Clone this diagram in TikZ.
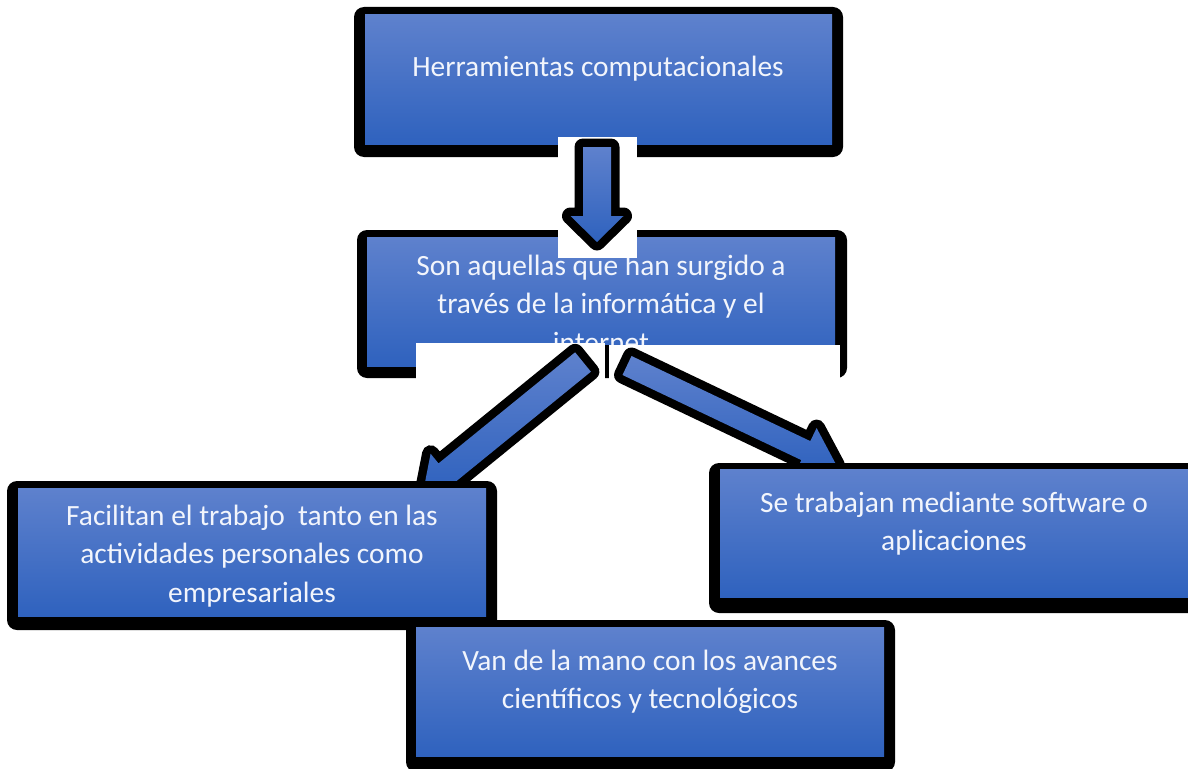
\documentclass[tikz,border=0pt]{standalone}
\usepackage{fontspec}
\setmainfont{Carlito}
\usetikzlibrary{fit}
\definecolor{btop}{RGB}{94,129,205}
\definecolor{bbot}{RGB}{47,98,190}
\definecolor{txtc}{RGB}{242,245,252}
\tikzset{
  shadowbox/.style={fill=black, rounded corners=10pt},
  bluebox/.style={rectangle, inner sep=0pt, outer sep=0pt, top color=btop, bottom color=bbot, draw=none},
  txt/.style={text=txtc, align=center, font=\fontsize{29.4}{38.5}\selectfont, inner sep=0pt},
  blockarrow/.style={top color=btop, bottom color=bbot, draw=none,
    preaction={draw=black, line width=17pt, line join=round}},
  whitebg/.style={fill=white, draw=none},
}
\begin{document}
\begin{tikzpicture}[x=1pt,y=-1pt]
\useasboundingbox (0,0) rectangle (1188,768);
\clip (0,0) rectangle (1188,768);
% box 1
\fill[shadowbox] (354,7) rectangle (843,157);
\node[bluebox, fit={(365,15) (832,144)}] (b1) {};
\node[txt, anchor=base] (t1) at (598,77) {Herramientas computacionales};
% box 2
\fill[shadowbox] (357,230) rectangle (847,378);
\node[bluebox, fit={(367,237) (835,366)}] (b2) {};
\node[txt, anchor=base] (t2) at (601,352) {Son aquellas que han surgido a\\través de la informática y el\\internet};
% down arrow
\fill[whitebg] (558,137) rectangle (637,258);
\path[blockarrow] (583,147) -- (583,216) -- (570.5,216) -- (597,242) -- (623.5,216) -- (611,216) -- (611,147) -- cycle;
% white backgrounds of the lower arrows
\fill[whitebg] (416,343) rectangle (605,380);
\fill[whitebg] (609,345) rectangle (840,380);
\fill[black] (605,345) rectangle (609,378);
% left arrow
\path[blockarrow] (575.1,352.3) -- (438.5,463.4) -- (430.6,453.7) -- (423.1,492.0) -- (462.2,492.5) -- (454.3,482.8) -- (590.9,371.7) -- cycle;
% right arrow
\path[blockarrow] (631.5,356.0) -- (810.3,441.1) -- (816.6,428.0) -- (836.5,465.3) -- (795.1,473.2) -- (801.3,460.1) -- (622.5,375.0) -- cycle;
% box 3
\fill[shadowbox] (7,481) rectangle (497,630);
\node[bluebox, fit={(18,488) (486,616)}] (b3) {};
\node[txt, anchor=base] (t3) at (252,602) {Facilitan el trabajo\ \ tanto en las\\actividades personales como\\empresariales};
% box 4
\fill[shadowbox] (709,463) rectangle (1200,613);
\node[bluebox, fit={(720,469) (1190,597)}] (b4) {};
\node[txt, anchor=base] (t4) at (954,550.5) {Se trabajan mediante software o\\aplicaciones};
% box 5
\fill[shadowbox] (406,620) rectangle (895,772);
\node[bluebox, fit={(416,627) (884,756)}] (b5) {};
\node[txt, anchor=base] (t5) at (650,708.5) {Van de la mano con los avances\\científicos y tecnológicos};
\end{tikzpicture}
\end{document}
